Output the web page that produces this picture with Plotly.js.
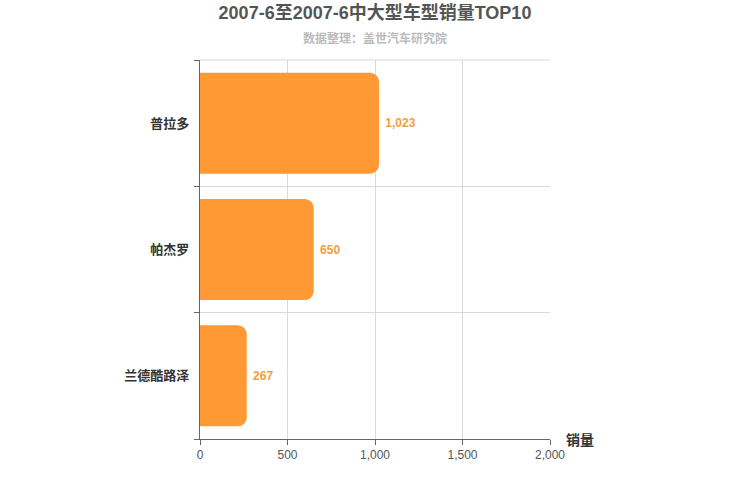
<!DOCTYPE html>
<html>
<head>
<meta charset="utf-8">
<script src="https://cdn.plot.ly/plotly-3.0.1.min.js"></script>
<style>body{margin:0;} #chart{width:750px;height:500px;}</style>
</head>
<body>
<div id="chart"></div>
<script>
var models = ['普拉多', '帕杰罗', '兰德酷路泽'];
var sales = [1023, 650, 267];

var FONT = '"Liberation Sans", Arial, "Noto Sans CJK SC", sans-serif';

var trace = {
  type: 'bar',
  orientation: 'h',
  x: sales,
  y: models,
  width: 0.8,
  marker: { color: '#FF9933', cornerradius: 9 },
  text: sales.map(function (v) { return ' ' + v.toLocaleString('en-US'); }),
  textposition: 'outside',
  textfont: { color: '#F0A040', size: 12, family: FONT, weight: 'bold' },
  cliponaxis: false,
  hoverinfo: 'none'
};

var layout = {
  width: 750,
  height: 500,
  margin: { l: 200, r: 200, t: 60, b: 61 },
  paper_bgcolor: '#fff',
  plot_bgcolor: '#fff',
  showlegend: false,
  font: { family: FONT, color: '#555' },
  title: {
    text: '<b>2007-6至2007-6中大型车型销量TOP10</b>',
    font: { size: 18, color: '#555', family: FONT },
    x: 0.5, xanchor: 'center', y: 0.975, yanchor: 'middle'
  },
  xaxis: {
    range: [0, 2000],
    tickvals: [0, 500, 1000, 1500, 2000],
    tickformat: ',d',
    showgrid: true,
    gridcolor: '#d9d9d9',
    showline: true,
    linecolor: '#666',
    linewidth: 1,
    ticks: 'outside',
    ticklen: 5,
    tickcolor: '#666',
    tickfont: { size: 12, color: '#555' },
    zeroline: false,
    fixedrange: true
  },
  yaxis: {
    type: 'category',
    categoryorder: 'array',
    categoryarray: models.slice().reverse(),
    tickson: 'boundaries',
    showgrid: true,
    gridcolor: '#d9d9d9',
    showline: true,
    linecolor: '#666',
    ticks: 'outside',
    ticklen: 5,
    tickcolor: '#666',
    ticksuffix: '  ',
    tickfont: { size: 13, color: '#333', weight: 'bold' },
    fixedrange: true
  },
  shapes: [
    { type: 'line', xref: 'paper', yref: 'paper', x0: 0, x1: 1, y0: 1, y1: 1,
      line: { color: '#d9d9d9', width: 1 } }
  ],
  annotations: [
    { text: '<b>数据整理：盖世汽车研究院</b>', xref: 'paper', yref: 'paper', x: 0.5, y: 1.058,
      xanchor: 'center', yanchor: 'middle', showarrow: false,
      font: { size: 12, color: '#bbb' } },
    { text: '<b>销量</b>', xref: 'paper', yref: 'paper', x: 1.04, y: -0.003,
      xanchor: 'left', yanchor: 'middle', showarrow: false,
      font: { size: 14, color: '#333' } }
  ]
};

Plotly.newPlot('chart', [trace], layout, { staticPlot: true });
</script>
</body>
</html>
